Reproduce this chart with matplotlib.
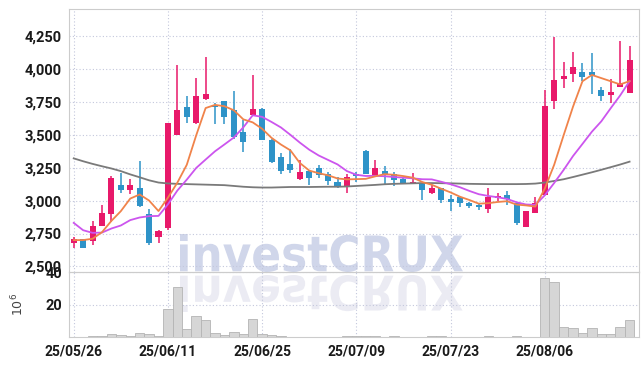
import matplotlib
matplotlib.use("Agg")
import matplotlib.pyplot as plt
import numpy as np
from matplotlib.textpath import TextPath
from matplotlib.patches import PathPatch
from matplotlib.font_manager import FontProperties
from matplotlib.transforms import Affine2D

# daily candles (KRW), 25/05/26 .. 25/08/20
opens  = [2675, 2705, 2690, 2810, 2900, 3118, 3085, 3100, 2895, 2720,
          2795, 3500, 3715, 3590, 3775, 3725, 3755, 3690, 3520, 3650,
          3700, 3465, 3330, 3278, 3165, 3225, 3245, 3200, 3140, 3115,
          3200, 3378, 3195, 3225, 3200, 3165, 3131, 3132, 3055, 3093,
          3012, 3025, 2980, 2970, 2940, 3022, 3040, 2980, 2800, 2908,
          3042, 3760, 3928, 3962, 3979, 3978, 3842, 3806, 3868, 3822]
highs  = [2725, 2710, 2845, 2965, 3185, 3210, 3165, 3300, 2940, 2780,
          3595, 4030, 3795, 3930, 4090, 3745, 3760, 3835, 3615, 3955,
          3705, 3470, 3365, 3390, 3310, 3230, 3270, 3220, 3180, 3205,
          3220, 3385, 3310, 3265, 3220, 3182, 3207, 3135, 3118, 3095,
          3042, 3028, 2992, 2980, 3100, 3060, 3073, 2985, 2925, 3025,
          3840, 4245, 4055, 4130, 4045, 4122, 3868, 3924, 4218, 4178]
lows   = [2636, 2640, 2665, 2808, 2840, 3055, 3050, 2952, 2660, 2675,
          2775, 3500, 3595, 3585, 3770, 3580, 3580, 3470, 3370, 3645,
          3460, 3290, 3200, 3210, 3160, 3120, 3175, 3120, 3095, 3055,
          3145, 3200, 3190, 3130, 3110, 3130, 3128, 3005, 3050, 2985,
          2925, 2953, 2942, 2928, 2905, 2997, 2967, 2815, 2800, 2905,
          3040, 3700, 3855, 3905, 3913, 3812, 3758, 3741, 3866, 3820]
closes = [2707, 2640, 2805, 2905, 3170, 3080, 3118, 2962, 2675, 2770,
          3590, 3690, 3640, 3795, 3810, 3710, 3640, 3485, 3450, 3695,
          3465, 3295, 3228, 3232, 3215, 3175, 3195, 3150, 3110, 3180,
          3185, 3205, 3245, 3195, 3157, 3132, 3145, 3080, 3093, 3005,
          2990, 2980, 2958, 2950, 3025, 3035, 3010, 2830, 2922, 2980,
          3720, 3918, 3949, 4015, 3945, 3957, 3800, 3829, 3893, 4070]

# moving averages
ma5  = [2700, 2700, 2710, 2760, 2846, 2920, 3016, 3047, 3001, 2921,
        3023, 3137, 3273, 3497, 3705, 3729, 3719, 3688, 3619, 3596,
        3547, 3478, 3427, 3383, 3287, 3229, 3209, 3193, 3169, 3162,
        3164, 3166, 3185, 3202, 3197, 3187, 3175, 3142, 3121, 3091,
        3063, 3030, 3005, 2977, 2981, 2990, 2996, 2970, 2964, 2955,
        3092, 3274, 3498, 3716, 3909, 3957, 3933, 3909, 3885, 3910]
ma10 = [2831, 2775, 2755, 2757, 2788, 2811, 2852, 2872, 2882, 2884,
        2972, 3077, 3160, 3249, 3313, 3376, 3428, 3481, 3558, 3650,
        3638, 3599, 3557, 3501, 3442, 3388, 3344, 3310, 3276, 3225,
        3197, 3188, 3189, 3186, 3180, 3175, 3170, 3163, 3162, 3144,
        3125, 3102, 3074, 3049, 3036, 3026, 3013, 2988, 2971, 2968,
        3041, 3135, 3234, 3340, 3432, 3525, 3604, 3704, 3801, 3910]
ma60 = [3322, 3300, 3280, 3262, 3245, 3225, 3200, 3178, 3155, 3138,
        3131, 3128, 3126, 3124, 3122, 3120, 3118, 3112, 3106, 3102,
        3100, 3100, 3102, 3104, 3104, 3104, 3105, 3106, 3106, 3108,
        3112, 3116, 3120, 3125, 3128, 3130, 3132, 3134, 3134, 3133,
        3132, 3130, 3128, 3127, 3126, 3126, 3126, 3126, 3127, 3130,
        3138, 3150, 3163, 3180, 3198, 3216, 3235, 3255, 3275, 3297]

# volume, millions of shares
volume = [0.1, 0.1, 0.7, 0.7, 1.9, 1.2, 0.6, 2.5, 2.0, 0.6,
          17.3, 31.0, 4.9, 13.1, 10.5, 2.6, 1.2, 3.2, 2.0, 11.1,
          2.0, 1.2, 0.6, 0.4, 0.4, 0.4, 0.4, 0.4, 0.3, 0.5,
          0.6, 1.0, 0.6, 0.4, 0.5, 0.4, 0.4, 0.4, 0.5, 0.6,
          0.4, 0.3, 0.3, 0.4, 0.5, 0.3, 0.3, 0.5, 0.3, 0.4,
          36.5, 34.0, 6.2, 5.6, 2.6, 5.6, 1.9, 1.9, 6.2, 10.5]

tick_labels = ["25/05/26", "25/06/11", "25/06/25", "25/07/09", "25/07/23", "25/08/06"]
price_ticks = [2500, 2750, 3000, 3250, 3500, 3750, 4000, 4250]
vol_ticks = [20, 40]

UP = "#e8196a"
DOWN = "#2e93c8"
GRID = "#c3c7dc"
W, H = 643, 366

fig = plt.figure(figsize=(W / 100, H / 100), dpi=100, facecolor="white")
ax = fig.add_axes([69 / W, 1 - 272 / H, 570 / W, 263 / H])
axv = fig.add_axes([69 / W, 1 - 337.3 / H, 570 / W, 65.3 / H], sharex=ax)

x = np.arange(len(closes))
o = np.array(opens); c = np.array(closes)
colors = [UP if cc >= oo else DOWN for oo, cc in zip(o, c)]

ax.vlines(x, lows, highs, colors=colors, lw=1.1, zorder=3)
body = np.maximum(np.abs(c - o), 6)
ax.bar(x, body, bottom=np.minimum(o, c), width=0.64, color=colors, zorder=4)

ax.plot(x, ma60, color="#7a7a7a", lw=1.3, zorder=5)
ax.plot(x, ma10, color="#cc55ee", lw=1.3, zorder=5)
ax.plot(x, ma5, color="#f0834a", lw=1.3, zorder=6)

axv.bar(x, volume, width=1.0, color="#d6d6d6", edgecolor="#b4b4b4", lw=0.6, zorder=3)

tick_pos = x[::10][:len(tick_labels)]
lab_font = dict(family=["Roboto", "DejaVu Sans"], weight="bold", size=10)
ylab_font = dict(family=["Roboto", "DejaVu Sans"], weight="bold", size=10.5)

for a in (ax, axv):
    a.set_facecolor("none")
    a.grid(True, ls=(0, (1, 2)), color=GRID, lw=0.8, zorder=1)
    a.set_axisbelow(True)
    a.tick_params(length=0, pad=5, colors="#1a1a1a")
    for s in a.spines.values():
        s.set_color("#cccccc")
        s.set_linewidth(0.8)

ax.set_xlim(-0.5, 60.0)
ax.set_ylim(2457, 4459)
ax.set_yticks(price_ticks)
ax.set_yticklabels([f"{v:,}" for v in price_ticks], fontdict=ylab_font)
ax.tick_params(axis="x", labelbottom=False)

axv.set_ylim(0, 40)
axv.set_yticks(vol_ticks)
axv.set_yticklabels([str(v) for v in vol_ticks], fontdict=ylab_font)
axv.set_xticks(tick_pos)
axv.set_xticklabels(tick_labels, fontdict=lab_font)
axv.set_ylabel(r"$10^6$", fontsize=9, color="#444444", labelpad=14)

# watermark with reflection
fp = FontProperties(family="DejaVu Sans", weight="bold")
tp = TextPath((0, 0), "investCRUX", size=100, prop=fp)
ext = tp.get_extents()
sx = (463 - 180) / ext.width
sy = (272 - 234) / ext.height
px = Affine2D().scale(1 / 100) + fig.dpi_scale_trans
main_tr = Affine2D().translate(-ext.x0, -ext.y0).scale(sx, sy).translate(180, H - 272)
refl_tr = Affine2D().translate(-ext.x0, -ext.y0).scale(sx, -37 / ext.height).translate(180, H - 275)
fig.add_artist(PathPatch(tp, transform=main_tr + px, color="#d0d6ea", lw=0, zorder=-1))
fig.add_artist(PathPatch(tp, transform=refl_tr + px, color="#ebebf3", lw=0, zorder=-1))

fig.savefig("out.png", dpi=100, facecolor="white")
